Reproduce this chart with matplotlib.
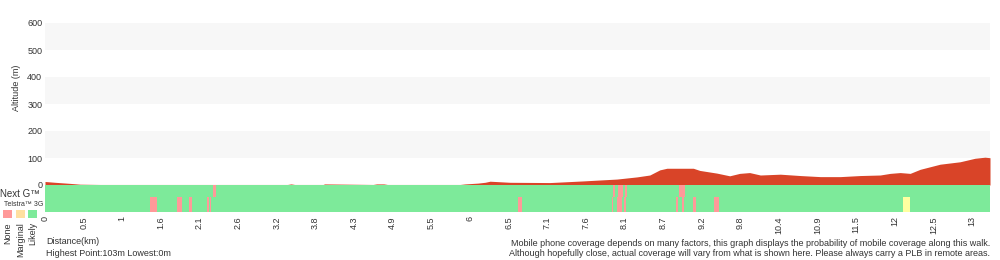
import numpy as np
import matplotlib
matplotlib.use("Agg")
import matplotlib.pyplot as plt

plt.rcParams["font.family"] = ["Liberation Sans", "DejaVu Sans"]

# ── Elevation profile (km, m) ──────────────────────────────────────
dist_km = [0.0, 0.14, 0.35, 0.49, 0.77, 1.5, 2.5, 3.4, 3.45, 3.5, 3.9, 3.92,
           4.6, 4.65, 4.75, 4.8, 5.5, 5.82, 5.89, 6.07, 6.17, 6.24, 6.38,
           6.52, 7.08, 7.54, 8.02, 8.30, 8.48, 8.62, 8.72, 9.09, 9.18, 9.42,
           9.60, 9.74, 9.88, 10.03, 10.31, 10.59, 10.87, 11.15, 11.43, 11.71,
           11.85, 11.99, 12.13, 12.27, 12.55, 12.83, 13.04, 13.18, 13.25]
elev_m = [13, 10, 6, 3, 2, 2, 2, 2, 4, 2, 2, 4,
          2, 4, 4, 2, 2, 2, 4, 7, 10, 14, 12,
          10, 9, 15, 22, 30, 37, 56, 62, 62, 54, 44,
          34, 43, 46, 37, 40, 35, 31, 31, 35, 37,
          43, 46, 43, 58, 77, 86, 99, 103, 101]

# ── Coverage segments (start km, end km) ───────────────────────────
nextg_none = [(2.36, 2.40), (7.96, 7.99), (8.03, 8.10), (8.13, 8.16), (8.89, 8.97)]
g3_none = [(1.47, 1.57), (1.85, 1.92), (2.02, 2.06), (2.27, 2.30), (2.31, 2.33),
           (6.63, 6.69), (7.95, 7.97), (8.02, 8.09), (8.12, 8.15), (8.85, 8.88),
           (8.93, 8.96), (9.09, 9.13), (9.38, 9.45)]
g3_marginal = [(12.03, 12.13)]

tick_labels = ["0", "0.5", "1", "1.6", "2.1", "2.6", "3.2", "3.8", "4.3", "4.9",
               "5.5", "6", "6.5", "7.1", "7.6", "8.1", "8.7", "9.2", "9.8",
               "10.4", "10.9", "11.5", "12", "12.5", "13"]

total_km = 13.25
tick_step = 13.0 / 24

RED = "#d94428"
NONE_C = "#ff9999"
MARG_C = "#ffffa0"
MARG_LEG = "#ffe0a0"
LIKELY_C = "#7dea9a"
TXT = "#333333"

fig = plt.figure(figsize=(10, 2.6), dpi=100)

# ── Altitude panel ─────────────────────────────────────────────────
ax = fig.add_axes([0.045, 1 - 185 / 260, 0.945, 162 / 260])
for lo in (100, 300, 500):
    ax.axhspan(lo, lo + 100, color="#f7f7f7", lw=0, zorder=0)
ax.fill_between(dist_km, elev_m, 0, color=RED, lw=0, zorder=2)
ax.set_xlim(0, total_km)
ax.set_ylim(0, 600)
ax.set_yticks(range(0, 601, 100))
ax.set_xticks([])
ax.tick_params(axis="y", length=0, labelsize=6.5, labelcolor=TXT, pad=2)
ax.set_ylabel("Altitude (m)", fontsize=6.5, color=TXT)
ax.yaxis.set_label_coords(-0.025, 0.6)
for s in ax.spines.values():
    s.set_visible(False)

# ── Coverage panel ─────────────────────────────────────────────────
cx = fig.add_axes([0.045, 1 - 212 / 260, 0.945, 27 / 260])
cx.set_xlim(0, total_km)
cx.set_ylim(0, 27)
cx.axvspan(0, total_km, color=LIKELY_C, lw=0)
for a, b in g3_none:
    cx.fill_between([a, b], 0, 15, color=NONE_C, lw=0)
for a, b in g3_marginal:
    cx.fill_between([a, b], 0, 15, color=MARG_C, lw=0)
for a, b in nextg_none:
    cx.fill_between([a, b], 15, 27, color=NONE_C, lw=0)
cx.set_yticks([])
cx.set_xticks(np.arange(len(tick_labels)) * tick_step)
cx.set_xticklabels(tick_labels, rotation=90, fontsize=6.5, color=TXT)
cx.tick_params(axis="x", length=0, pad=3)
for s in cx.spines.values():
    s.set_visible(False)

# ── Legend / labels on the left ────────────────────────────────────
fig.text(0.040, 1 - 194 / 260, "Next G™", ha="right", va="center", fontsize=7, color=TXT)
fig.text(0.004, 1 - 205 / 260, "Telstra™ 3G", ha="left", va="center", fontsize=5, color=TXT)
for x0, c, lab in [(3, NONE_C, "None"), (16, MARG_LEG, "Marginal"), (28, LIKELY_C, "Likely")]:
    fig.patches.append(plt.Rectangle((x0 / 1000, 1 - 218 / 260), 9 / 1000, 8 / 260,
                                     transform=fig.transFigure, color=c, lw=0))
    fig.text((x0 + 4.5) / 1000, 1 - 222 / 260, lab, rotation=90, ha="center", va="top",
             fontsize=6.5, color=TXT)

fig.text(0.046, 1 - 242 / 260, "Distance(km)", ha="left", va="center", fontsize=6.5, color=TXT)
fig.text(0.046, 1 - 253 / 260, "Highest Point:103m Lowest:0m", ha="left", va="center",
         fontsize=6.5, color=TXT)
fig.text(0.99, 1 - 243 / 260,
         "Mobile phone coverage depends on many factors, this graph displays the probability of mobile coverage along this walk.",
         ha="right", va="center", fontsize=6.5, color=TXT)
fig.text(0.99, 1 - 253 / 260,
         "Although hopefully close, actual coverage will vary from what is shown here. Please always carry a PLB in remote areas.",
         ha="right", va="center", fontsize=6.5, color=TXT)

fig.savefig("out.png", dpi=100)
